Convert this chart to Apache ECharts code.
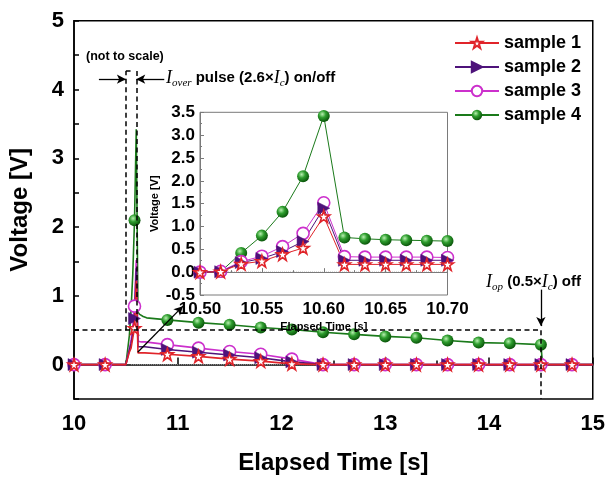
<!DOCTYPE html>
<html>
<head>
<meta charset="utf-8">
<script src="https://cdn.jsdelivr.net/npm/echarts@6/dist/echarts.min.js"></script>
<style>html,body{margin:0;padding:0;background:#fff;}#chart{width:608px;height:480px;}</style>
</head>
<body>
<div id="chart"></div>
<script>
// ---- data ----
const seriesNames = ['sample 1', 'sample 2', 'sample 3', 'sample 4'];
// inset (zoomed) time samples [s]
const insetTime = [10.5, 10.5167, 10.5333, 10.55, 10.5667, 10.5833, 10.6, 10.6167, 10.6333, 10.65, 10.6667, 10.6833, 10.7];
const s1Inset = [0, 0.01, 0.18, 0.24, 0.39, 0.53, 1.22, 0.17, 0.17, 0.17, 0.17, 0.17, 0.17];
const s2Inset = [0, 0.01, 0.21, 0.30, 0.45, 0.67, 1.40, 0.26, 0.26, 0.26, 0.26, 0.26, 0.26];
const s3Inset = [0, 0.02, 0.23, 0.35, 0.56, 0.85, 1.52, 0.34, 0.33, 0.33, 0.33, 0.33, 0.32];
const s4Inset = [0, 0.01, 0.42, 0.80, 1.32, 2.10, 3.42, 0.76, 0.73, 0.71, 0.70, 0.69, 0.68];
const spikeMarkerIdx = 5; // inset sample that also carries a marker in the main plot
// main plot marker times [s]
const markerTime = [10.0, 10.3, 10.9, 11.2, 11.5, 11.8, 12.1, 12.4, 12.7, 13.0, 13.3, 13.6, 13.9, 14.2, 14.5, 14.8];
const s1Main = [0, 0, 0.15, 0.12, 0.08, 0.05, 0.01, 0, 0, 0, 0, 0, 0, 0, 0, 0];
const s2Main = [0, 0, 0.22, 0.18, 0.14, 0.10, 0.04, 0, 0, 0, 0, 0, 0, 0, 0, 0];
const s3Main = [0, 0, 0.29, 0.24, 0.19, 0.15, 0.08, 0, 0, 0, 0, 0, 0, 0, 0, 0];
const s4Main = [0, 0, 0.65, 0.61, 0.58, 0.54, 0.51, 0.47, 0.44, 0.41, 0.39, 0.35, 0.32, 0.31, 0.29, 0];
// extra unmarked points (current switched off)
const s4Drop = [[14.5167, 0]];
const endPoint = [15, 0];
// axis tick ranges
const mainX = {min: 10, max: 15, step: 1};
const mainY = {min: -0.5, max: 5, step: 0.5};
const insetX = {min: 10.5, max: 10.7, step: 0.05};
const insetY = {min: -0.5, max: 3.5, step: 0.5};

// ---- styles ----
const colors = ['#e0242a', '#4e137a', '#cc30cc', '#1a7a1a'];
const starPath = 'path://M50,2 L61,36 L97,36 L68,57 L79,92 L50,71 L21,92 L32,57 L3,36 L39,36 Z';
const triRight = 'path://M0,0 L100,50 L0,100 Z';
const ball = {type: 'radial', x: 0.38, y: 0.35, r: 0.65,
  colorStops: [{offset: 0, color: '#b8f0b0'}, {offset: 0.45, color: '#2f9e2f'}, {offset: 1, color: '#0a560a'}]};
const markerStyle = [
  {symbol: starPath, itemStyle: {color: '#fff', borderColor: colors[0], borderWidth: 1.6}},
  {symbol: triRight, itemStyle: {color: colors[1], borderColor: colors[1], borderWidth: 0.5}},
  {symbol: 'circle', itemStyle: {color: '#fff', borderColor: colors[2], borderWidth: 1.6}},
  {symbol: 'circle', itemStyle: {color: ball, borderWidth: 0}}
];
const insetVals = [s1Inset, s2Inset, s3Inset, s4Inset];
const mainVals = [s1Main, s2Main, s3Main, s4Main];
const drops = [[], [], [], s4Drop];

function buildMain(idx) {
  const pts = [];
  markerTime.forEach((t, i) => { if (t < insetTime[0]) pts.push({value: [t, mainVals[idx][i]]}); });
  insetTime.forEach((t, i) => {
    const it = {value: [t, insetVals[idx][i]]};
    if (i !== spikeMarkerIdx) it.symbol = 'none';
    pts.push(it);
  });
  markerTime.forEach((t, i) => { if (t > insetTime[insetTime.length - 1]) pts.push({value: [t, mainVals[idx][i]]}); });
  drops[idx].forEach(p => pts.push({value: p, symbol: 'none'}));
  pts.push({value: endPoint, symbol: 'none'});
  pts.sort((a, b) => a.value[0] - b.value[0]);
  return pts;
}
function buildInset(idx) {
  return insetTime.map((t, i) => [t, insetVals[idx][i]]);
}

const FONT = 'Arial, "Liberation Sans", sans-serif';
const SERIF = '"Times New Roman", "Liberation Serif", serif';
const black = '#000';

const series = [];
// zero baseline (dotted) + annotation lines in main grid
const dash = [5, 3.5];
series.push({
  type: 'line', xAxisIndex: 0, yAxisIndex: 0, z: 1, silent: true, symbol: 'none',
  data: [[10.55, 0], [12.4, 0]],
  lineStyle: {color: '#9a9a9a', width: 1, type: 'dotted'},
  markLine: {
    silent: true, animation: false, symbol: 'none', label: {show: false},
    lineStyle: {color: black, width: 1.5, type: dash},
    emphasis: {disabled: true},
    data: [
      [{coord: [10, 0.5]}, {coord: [14.5, 0.5]}],
      [{coord: [10.5, 0.5]}, {coord: [10.5, 4.27]}],
      [{coord: [10.5, 4.27], lineStyle: {type: 'solid'}}, {coord: [10.545, 4.27]}],
      [{coord: [10.6, 4.27]}, {coord: [10.6, 0.5]}],
      [{coord: [14.5, 0.5]}, {coord: [14.5, -0.5]}],
      [{coord: [10.24, 4.15], symbol: 'none', lineStyle: {type: 'solid', width: 1.3}}, {coord: [10.5, 4.15], symbol: 'arrow', symbolSize: [7, 9]}],
      [{coord: [10.87, 4.15], symbol: 'none', lineStyle: {type: 'solid', width: 1.3}}, {coord: [10.6, 4.15], symbol: 'arrow', symbolSize: [7, 9]}],
      [{coord: [14.5, 1.09], symbol: 'none', lineStyle: {type: 'solid', width: 1.3}}, {coord: [14.5, 0.56], symbol: 'arrow', symbolSize: [7, 9]}],
      [{coord: [10.614, 0.18], symbol: 'none', lineStyle: {type: 'solid', width: 1.3}}, {coord: [11.05, 0.85], symbol: 'arrow', symbolSize: [7, 9]}]
    ]
  }
});
// main data series (draw sample 4 first so sample 1 is on top)
for (let idx = 3; idx >= 0; idx--) {
  series.push({
    name: seriesNames[idx], type: 'line', xAxisIndex: 0, yAxisIndex: 0, z: 3,
    data: buildMain(idx), showAllSymbol: true, symbolSize: 12,
    symbol: markerStyle[idx].symbol, itemStyle: markerStyle[idx].itemStyle,
    lineStyle: {color: colors[idx], width: 1.6}, color: colors[idx],
    animation: false
  });
}
// inset zero line
series.push({
  type: 'line', xAxisIndex: 1, yAxisIndex: 1, z: 11, silent: true, symbol: 'none',
  data: [[insetX.min, 0], [insetX.max, 0]],
  lineStyle: {color: '#9a9a9a', width: 1, type: 'dotted'}
});
for (let idx = 3; idx >= 0; idx--) {
  series.push({
    name: seriesNames[idx], type: 'line', xAxisIndex: 1, yAxisIndex: 1, z: 12,
    data: buildInset(idx), showAllSymbol: true, symbolSize: 12,
    symbol: markerStyle[idx].symbol, itemStyle: markerStyle[idx].itemStyle,
    lineStyle: {color: colors[idx], width: 1}, color: colors[idx],
    animation: false
  });
}

const option = {
  backgroundColor: '#fff',
  animation: false,
  legend: {
    data: seriesNames, orient: 'vertical', left: 449, top: 29,
    itemWidth: 44, itemHeight: 13, itemGap: 6,
    textStyle: {fontFamily: FONT, fontWeight: 'bold', fontSize: 18, color: black, lineHeight: 18},
    selectedMode: false
  },
  grid: [
    {left: 65.3, right: 15, top: 20.7, bottom: 69.3, show: true, borderColor: black, borderWidth: 1.5, backgroundColor: 'transparent'},
    {left: 200, top: 112.3, width: 247.5, height: 182.7, show: true, borderColor: '#7a7a7a', borderWidth: 1, backgroundColor: '#fff', z: 10}
  ],
  xAxis: [
    {
      type: 'value', gridIndex: 0, min: mainX.min, max: mainX.max, interval: mainX.step,
      name: 'Elapsed Time [s]', nameLocation: 'middle', nameGap: 52,
      nameTextStyle: {fontFamily: FONT, fontWeight: 'bold', fontSize: 24, color: black},
      axisLine: {lineStyle: {color: black, width: 1.5}},
      axisTick: {inside: true, length: 7, lineStyle: {color: black, width: 1.5}},
      minorTick: {show: true, splitNumber: 2, length: 4, lineStyle: {color: black, width: 1.5}},
      axisLabel: {fontFamily: FONT, fontWeight: 'bold', fontSize: 22, color: black, margin: 14},
      splitLine: {show: false}
    },
    {
      type: 'value', gridIndex: 1, min: insetX.min, max: insetX.max, interval: insetX.step, z: 12,
      name: 'Elapsed Time [s]', nameLocation: 'middle', nameGap: 26,
      nameTextStyle: {fontFamily: FONT, fontWeight: 'bold', fontSize: 11, color: black},
      axisLine: {lineStyle: {color: '#7a7a7a', width: 1}},
      axisTick: {inside: true, length: 4, lineStyle: {color: '#7a7a7a'}},
      minorTick: {show: true, splitNumber: 2, length: 2, lineStyle: {color: '#7a7a7a'}},
      axisLabel: {fontFamily: FONT, fontWeight: 'bold', fontSize: 17, color: black, margin: 6, formatter: v => v.toFixed(2)},
      splitLine: {show: false}
    }
  ],
  yAxis: [
    {
      type: 'value', gridIndex: 0, min: mainY.min, max: mainY.max, interval: mainY.step,
      name: 'Voltage [V]', nameLocation: 'middle', nameGap: 42,
      nameTextStyle: {fontFamily: FONT, fontWeight: 'bold', fontSize: 24, color: black},
      axisLine: {lineStyle: {color: black, width: 1.5}},
      axisTick: {inside: true, length: 5, lineStyle: {color: black, width: 1.5}},
      axisLabel: {fontFamily: FONT, fontWeight: 'bold', fontSize: 22, color: black, margin: 10,
        formatter: v => (Math.abs(v - Math.round(v)) < 1e-9 ? String(Math.round(v)) : '')},
      splitLine: {show: false}
    },
    {
      type: 'value', gridIndex: 1, min: insetY.min, max: insetY.max, interval: insetY.step, z: 12,
      name: 'Voltage [V]', nameLocation: 'middle', nameGap: 40,
      nameTextStyle: {fontFamily: FONT, fontWeight: 'bold', fontSize: 11, color: black},
      axisLine: {lineStyle: {color: '#7a7a7a', width: 1}},
      axisTick: {inside: true, length: 4, lineStyle: {color: '#7a7a7a'}},
      minorTick: {show: true, splitNumber: 2, length: 2, lineStyle: {color: '#7a7a7a'}},
      axisLabel: {fontFamily: FONT, fontWeight: 'bold', fontSize: 17, color: black, margin: 5, formatter: v => v.toFixed(1)},
      splitLine: {show: false}
    }
  ],
  graphic: [
    {type: 'text', left: 86, top: 50, z: 20, style: {text: '(not to scale)', fontFamily: FONT, fontWeight: 'bold', fontSize: 12.5, fill: black}},
    {type: 'text', left: 166, top: 69, z: 20, style: {
      text: '{i|I}{sub|over}{b| pulse (2.6×}{i|I}{sub|c}{b|) on/off}',
      rich: {
        i: {fontFamily: SERIF, fontStyle: 'italic', fontSize: 18, lineHeight: 22, fill: black},
        sub: {fontFamily: SERIF, fontStyle: 'italic', fontSize: 11, lineHeight: 11, verticalAlign: 'bottom', fill: black},
        b: {fontFamily: FONT, fontWeight: 'bold', fontSize: 15, lineHeight: 22, fill: black}
      }}},
    {type: 'text', left: 486, top: 273, z: 20, style: {
      text: '{i|I}{sub|op}{b| (0.5×}{i|I}{sub|c}{b|) off}',
      rich: {
        i: {fontFamily: SERIF, fontStyle: 'italic', fontSize: 18, lineHeight: 22, fill: black},
        sub: {fontFamily: SERIF, fontStyle: 'italic', fontSize: 11, lineHeight: 11, verticalAlign: 'bottom', fill: black},
        b: {fontFamily: FONT, fontWeight: 'bold', fontSize: 15, lineHeight: 22, fill: black}
      }}}
  ],
  series: series
};
const chart = echarts.init(document.getElementById('chart'), null, {renderer: 'canvas'});
chart.setOption(option);
</script>
</body>
</html>
